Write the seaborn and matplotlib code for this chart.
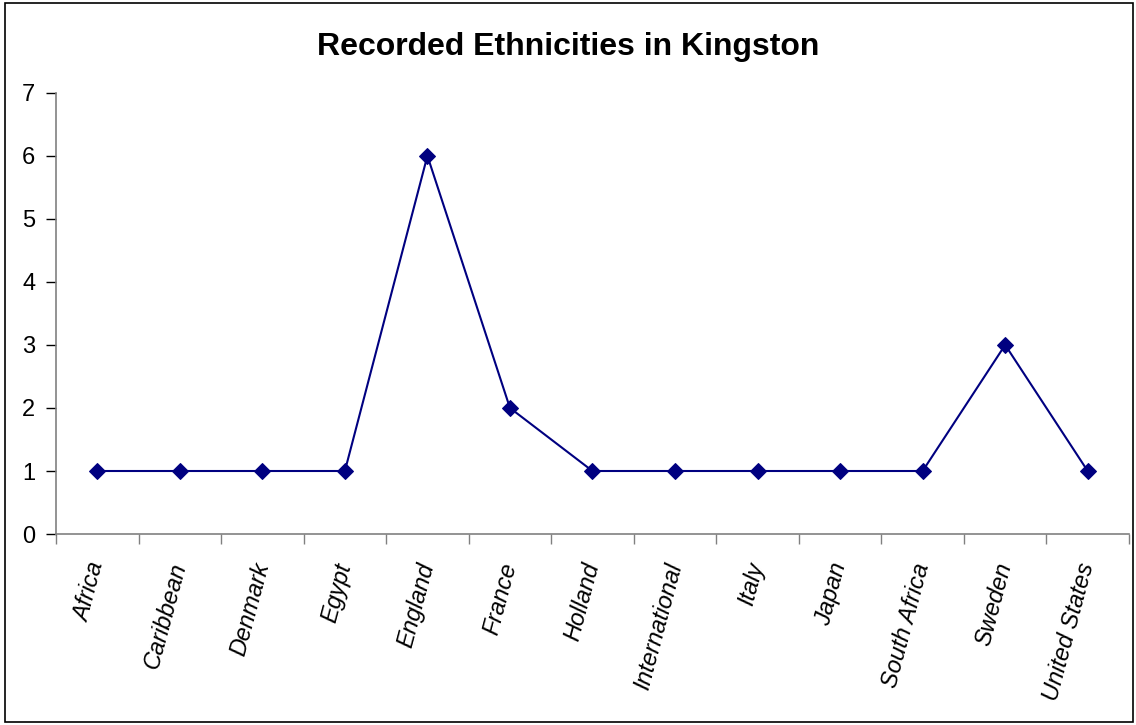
import matplotlib

matplotlib.use("Agg")
import matplotlib.pyplot as plt
import numpy as np
import pandas as pd
import seaborn as sns
from matplotlib.patches import Rectangle
from matplotlib.ticker import FixedLocator, NullFormatter

countries = [
    "Africa", "Caribbean", "Denmark", "Egypt", "England", "France", "Holland",
    "International", "Italy", "Japan", "South Africa", "Sweden", "United States",
]
counts = [1, 1, 1, 1, 6, 2, 1, 1, 1, 1, 1, 3, 1]
y_ticks = [0, 1, 2, 3, 4, 5, 6, 7]

df = pd.DataFrame({"pos": np.arange(len(countries)), "count": counts})

sns.set_style("white")
plt.rcParams["font.family"] = ["Liberation Sans", "DejaVu Sans"]
plt.rcParams["text.color"] = "black"
plt.rcParams["xtick.color"] = "black"
plt.rcParams["ytick.color"] = "black"

fig = plt.figure(figsize=(11.36, 7.25), dpi=100)
ax = fig.add_axes([0.0493, 0.2634, 0.9445, 0.6086])

sns.lineplot(data=df, x="pos", y="count", ax=ax, color="#000080", linewidth=1.5,
             marker="D", markersize=8, markeredgecolor="#000080")

ax.set_xlim(-0.5, len(countries) - 0.5)
ax.set_ylim(0, 7)
ax.set_yticks(y_ticks)
ax.set_xlabel("")
ax.set_ylabel("")

# category boundaries carry the tick marks, labels sit at the centres
ax.xaxis.set_major_locator(FixedLocator(np.arange(len(countries) + 1) - 0.5))
ax.xaxis.set_major_formatter(NullFormatter())
ax.xaxis.set_minor_locator(FixedLocator(df["pos"]))
ax.set_xticklabels(countries, minor=True, rotation=75, ha="right", va="center",
                   rotation_mode="anchor", fontsize=17, style="italic")
ax.tick_params(axis="x", which="major", direction="out", length=7, width=1,
               color="#808080", bottom=True)
ax.tick_params(axis="x", which="minor", length=0, pad=21)
ax.tick_params(axis="y", direction="out", length=7, width=1, color="#000000",
               labelsize=17, left=True, pad=8)

for side in ["top", "right"]:
    ax.spines[side].set_visible(False)
for side in ["left", "bottom"]:
    ax.spines[side].set_color("#808080")
    ax.spines[side].set_linewidth(1.2)

fig.text(0.5, 0.935, "Recorded Ethnicities in Kingston", ha="center", va="center",
         fontsize=23, fontweight="bold", color="black")

fig.patches.append(Rectangle((0.004, 0.004), 0.993, 0.992, transform=fig.transFigure,
                             fill=False, edgecolor="#000000", linewidth=1.2))

fig.savefig("out.png", dpi=100)
